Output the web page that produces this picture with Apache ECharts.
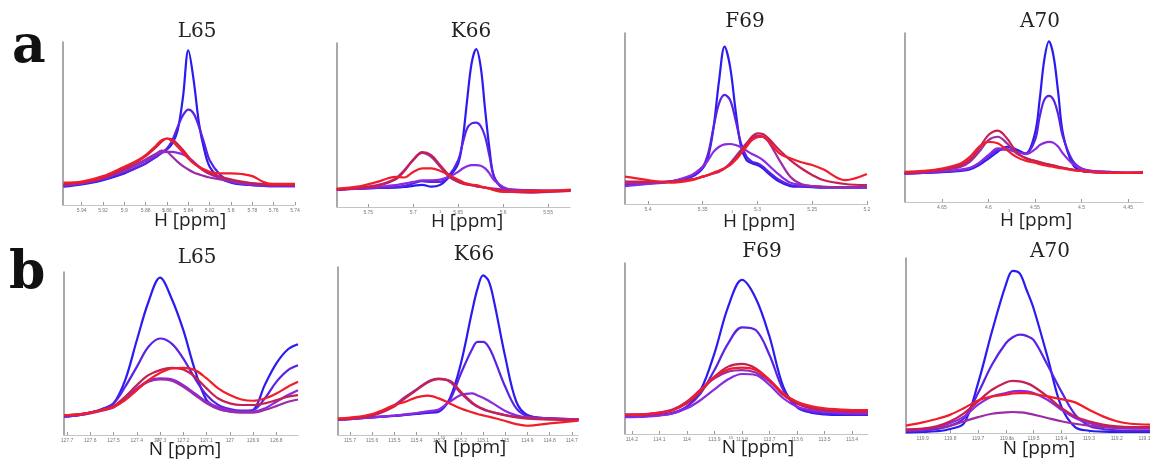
<!DOCTYPE html>
<html>
<head>
<meta charset="utf-8">
<script src="https://cdn.jsdelivr.net/npm/echarts@6/dist/echarts.min.js"></script>
<style>
html, body { margin: 0; padding: 0; background: #fff; }
#main { width: 1150px; height: 463px; }
</style>
</head>
<body>
<div id="main"></div>
<script>
// ---------- row a : 1H projections ----------
const aL65_ticks = [5.94, 5.92, 5.9, 5.88, 5.86, 5.84, 5.82, 5.8, 5.78, 5.76, 5.74];
const aL65_ppm = [5.957, 5.94, 5.92, 5.90, 5.89, 5.88, 5.87, 5.865, 5.86, 5.855, 5.85, 5.845, 5.84, 5.835, 5.83, 5.825, 5.82, 5.81, 5.80, 5.79, 5.78, 5.77, 5.76, 5.74];
const aL65_blue = [11.2, 12.6, 15.3, 19.4, 22.4, 25.5, 29.6, 32.0, 34.1, 37.7, 45.9, 66.3, 94.9, 76.5, 50.0, 33.7, 23.5, 16.3, 13.7, 12.6, 12.2, 11.8, 11.6, 11.6];
const aL65_bviolet = [11.6, 12.9, 15.7, 19.8, 22.4, 25.5, 29.6, 32.0, 34.7, 39.8, 47.9, 55.1, 58.5, 56.1, 47.9, 37.7, 27.5, 18.4, 14.3, 12.9, 12.2, 11.8, 11.6, 11.6];
const aL65_violet = [12.2, 13.3, 16.3, 21.0, 23.9, 27.1, 30.6, 32.2, 32.6, 32.6, 32.0, 31.0, 29.2, 26.5, 23.5, 21.0, 19.0, 16.3, 14.3, 13.3, 12.6, 12.2, 12.0, 12.0];
const aL65_purple = [12.2, 13.7, 16.3, 21.4, 24.5, 27.9, 31.6, 33.3, 32.6, 29.6, 26.5, 23.9, 21.8, 20.0, 18.8, 17.7, 16.9, 15.7, 14.7, 13.7, 13.3, 12.9, 12.6, 12.6];
const aL65_crimson = [12.9, 13.7, 16.7, 22.4, 25.9, 30.0, 35.7, 38.8, 40.8, 40.2, 37.3, 33.7, 29.6, 25.9, 23.1, 20.8, 19.4, 17.3, 15.7, 14.3, 13.3, 12.6, 12.2, 12.2];
const aL65_red = [13.7, 14.3, 17.7, 23.5, 26.5, 30.6, 36.7, 39.8, 40.8, 38.8, 35.7, 32.0, 28.6, 25.5, 23.5, 21.8, 20.4, 19.4, 19.4, 19.0, 17.7, 14.3, 12.9, 12.9];

const aK66_ticks = [5.75, 5.7, 5.65, 5.6, 5.55];
const aK66_ppm = [5.785, 5.76, 5.74, 5.72, 5.71, 5.70, 5.69, 5.68, 5.67, 5.66, 5.65, 5.645, 5.64, 5.635, 5.63, 5.625, 5.62, 5.615, 5.61, 5.60, 5.59, 5.57, 5.55, 5.525];
const aK66_blue = [10.6, 11.2, 11.6, 11.8, 12.2, 12.9, 13.5, 12.4, 13.5, 18.4, 26.5, 40.8, 65.3, 87.8, 96.3, 85.7, 59.2, 34.7, 18.4, 11.2, 10.2, 9.8, 9.8, 10.2];
const aK66_bviolet = [10.6, 11.2, 11.6, 12.2, 12.9, 14.3, 15.7, 15.3, 15.3, 19.4, 28.6, 38.8, 48.0, 51.0, 51.4, 49.4, 42.8, 30.6, 18.4, 11.8, 10.6, 10.2, 9.8, 10.2];
const aK66_violet = [10.6, 11.2, 12.2, 13.3, 14.3, 15.3, 16.3, 16.3, 16.7, 18.4, 21.4, 23.5, 24.9, 25.5, 25.5, 25.1, 23.5, 20.4, 16.3, 12.2, 10.6, 10.2, 9.8, 10.2];
const aK66_purple = [10.6, 11.8, 13.3, 17.3, 22.4, 28.6, 33.0, 30.6, 24.5, 18.4, 15.3, 14.3, 13.7, 13.3, 12.6, 12.2, 11.8, 11.6, 11.2, 10.6, 10.2, 9.8, 9.8, 10.2];
const aK66_crimson = [10.6, 11.6, 12.9, 16.7, 21.8, 28.9, 33.4, 31.6, 25.5, 19.4, 15.7, 14.3, 13.7, 13.3, 12.9, 12.2, 11.8, 11.2, 10.6, 9.8, 9.2, 8.8, 9.2, 9.8];
const aK66_red = [11.2, 12.6, 15.3, 18.4, 18.0, 21.4, 23.5, 23.5, 22.0, 19.4, 16.7, 15.3, 14.3, 13.7, 13.3, 12.6, 11.8, 11.2, 10.2, 9.2, 9.2, 9.8, 9.8, 10.6];

const aF69_ticks = [5.4, 5.35, 5.3, 5.25, 5.2];
const aF69_ppm = [5.421, 5.40, 5.38, 5.36, 5.35, 5.345, 5.34, 5.335, 5.33, 5.325, 5.32, 5.315, 5.31, 5.305, 5.30, 5.295, 5.29, 5.28, 5.27, 5.26, 5.25, 5.24, 5.22, 5.20];
const aF69_blue = [11.1, 12.1, 13.1, 16.0, 20.9, 27.7, 45.2, 72.5, 92.0, 80.3, 54.9, 33.5, 25.7, 23.8, 22.8, 20.9, 17.9, 13.1, 10.5, 10.1, 9.8, 9.6, 9.6, 9.6];
const aF69_bviolet = [11.1, 12.1, 13.1, 16.4, 21.8, 29.6, 45.2, 59.0, 63.8, 60.8, 49.1, 35.5, 27.7, 24.8, 23.8, 21.8, 18.9, 14.0, 11.1, 10.5, 10.1, 9.8, 9.8, 9.8];
const aF69_violet = [10.5, 11.7, 13.1, 17.0, 21.8, 25.7, 30.6, 33.5, 34.9, 35.1, 34.5, 33.2, 31.2, 29.2, 27.7, 25.7, 22.8, 17.0, 12.5, 11.1, 10.5, 10.1, 9.8, 9.8];
const aF69_purple = [12.1, 12.5, 13.1, 14.4, 16.0, 17.0, 17.9, 18.9, 20.9, 23.8, 27.7, 31.6, 35.5, 38.4, 39.8, 39.4, 36.5, 25.7, 16.0, 11.7, 10.5, 10.1, 9.8, 9.8];
const aF69_crimson = [13.1, 13.1, 13.1, 14.4, 16.0, 17.0, 18.3, 19.5, 20.9, 23.4, 26.7, 30.6, 35.1, 39.4, 41.3, 40.9, 38.4, 31.6, 25.7, 20.9, 17.0, 14.0, 11.7, 11.1];
const aF69_red = [16.0, 14.0, 12.5, 14.0, 16.0, 17.0, 18.3, 19.5, 20.9, 22.8, 25.7, 29.6, 33.5, 37.4, 39.0, 39.4, 37.0, 29.6, 26.7, 24.4, 22.8, 20.3, 14.0, 17.6];

const aA70_ticks = [4.65, 4.6, 4.55, 4.5, 4.45];
const aA70_ppm = [4.69, 4.67, 4.65, 4.63, 4.62, 4.61, 4.60, 4.59, 4.58, 4.57, 4.56, 4.55, 4.545, 4.54, 4.535, 4.53, 4.525, 4.52, 4.51, 4.50, 4.49, 4.47, 4.45, 4.434];
const aA70_blue = [16.8, 17.2, 17.6, 18.4, 19.2, 21.8, 25.7, 29.7, 32.7, 31.1, 28.7, 40.6, 60.4, 84.2, 95.0, 86.1, 64.4, 40.6, 22.8, 18.4, 17.8, 17.2, 17.2, 17.2];
const aA70_bviolet = [16.8, 17.2, 17.8, 18.8, 19.8, 22.8, 27.1, 30.7, 31.1, 29.7, 28.7, 36.6, 50.5, 60.4, 62.8, 60.4, 51.5, 38.6, 24.8, 19.8, 18.4, 17.8, 17.2, 17.2];
const aA70_violet = [16.8, 17.4, 18.2, 19.2, 20.2, 23.2, 27.7, 31.7, 31.1, 29.7, 28.3, 31.1, 33.7, 35.0, 35.6, 35.0, 32.7, 28.7, 22.8, 19.8, 18.4, 17.8, 17.2, 17.2];
const aA70_purple = [17.2, 17.8, 18.8, 20.8, 23.8, 29.7, 36.6, 38.6, 34.7, 28.7, 26.1, 24.2, 23.4, 22.8, 22.2, 21.6, 20.8, 20.2, 19.2, 18.4, 17.8, 17.2, 17.2, 17.2];
const aA70_crimson = [17.2, 18.0, 19.2, 21.8, 25.1, 31.7, 39.6, 42.2, 37.6, 29.7, 25.7, 24.4, 23.6, 22.8, 22.2, 21.6, 20.8, 20.2, 19.2, 18.4, 17.8, 17.2, 17.2, 17.2];
const aA70_red = [17.8, 18.4, 19.8, 22.8, 26.7, 32.7, 35.6, 34.7, 30.7, 26.7, 24.4, 23.2, 22.4, 21.8, 21.2, 20.8, 20.2, 19.8, 18.8, 18.4, 17.8, 17.2, 17.2, 17.8];

// ---------- row b : 15N projections ----------
const bL65_ticks = [127.7, 127.6, 127.5, 127.4, 127.3, 127.2, 127.1, 127, 126.9, 126.8];
const bL65_ppm = [127.713, 127.65, 127.6, 127.55, 127.5, 127.45, 127.4, 127.35, 127.3, 127.25, 127.2, 127.15, 127.1, 127.05, 127.0, 126.95, 126.9, 126.85, 126.8, 126.75, 126.707];
const bL65_blue = [11.2, 12.2, 13.7, 15.7, 19.4, 33.7, 58.1, 81.6, 96.5, 83.6, 64.3, 39.8, 21.4, 16.3, 14.7, 14.3, 15.3, 30.6, 43.9, 52.6, 55.7];
const bL65_bviolet = [11.2, 12.2, 13.7, 15.9, 19.4, 29.6, 41.8, 54.1, 59.2, 56.1, 46.9, 34.7, 24.5, 18.4, 15.9, 14.9, 15.3, 22.4, 32.6, 39.8, 42.8];
const bL65_violet = [12.2, 12.7, 13.7, 15.3, 17.3, 22.4, 28.6, 33.3, 34.7, 34.1, 30.6, 25.5, 20.4, 17.0, 15.3, 14.3, 14.3, 16.3, 20.4, 24.5, 27.5];
const bL65_purple = [11.8, 12.2, 13.3, 14.9, 16.9, 21.8, 27.9, 32.6, 34.1, 33.3, 29.6, 24.5, 19.4, 15.9, 14.3, 13.7, 13.7, 15.3, 17.7, 20.4, 21.8];
const bL65_crimson = [12.2, 12.7, 13.7, 15.3, 17.7, 23.5, 30.6, 36.7, 39.8, 41.2, 40.2, 35.7, 28.6, 22.4, 19.4, 18.4, 18.4, 19.4, 21.4, 23.5, 24.5];
const bL65_red = [12.2, 12.7, 13.7, 15.3, 17.3, 21.4, 27.5, 33.7, 38.1, 40.8, 41.2, 39.8, 34.7, 28.6, 24.5, 21.8, 21.0, 22.4, 25.5, 29.6, 32.6];

const bK66_ticks = [115.7, 115.6, 115.5, 115.4, 115.3, 115.2, 115.1, 115, 114.9, 114.8, 114.7];
const bK66_ppm = [115.754, 115.7, 115.6, 115.5, 115.45, 115.4, 115.35, 115.3, 115.25, 115.2, 115.15, 115.125, 115.1, 115.075, 115.05, 115.0, 114.95, 114.9, 114.8, 114.67];
const bK66_blue = [9.3, 9.5, 10.5, 11.3, 11.9, 12.5, 13.1, 13.9, 21.8, 42.6, 73.3, 87.1, 95.0, 91.7, 79.2, 46.5, 19.8, 11.9, 9.9, 9.3];
const bK66_bviolet = [9.3, 9.5, 10.5, 11.5, 12.1, 12.9, 13.7, 14.9, 20.8, 36.6, 50.9, 55.4, 55.4, 52.5, 45.5, 28.7, 15.8, 11.3, 9.9, 9.3];
const bK66_violet = [9.3, 9.7, 10.5, 11.5, 12.3, 13.1, 14.1, 15.2, 19.8, 23.8, 24.8, 23.6, 22.2, 20.4, 18.4, 14.3, 11.7, 10.5, 9.9, 9.3];
const bK66_purple = [9.3, 9.7, 11.9, 17.8, 22.8, 27.1, 31.7, 33.5, 31.7, 24.8, 18.8, 16.8, 15.2, 14.1, 13.3, 11.9, 10.9, 10.3, 9.7, 9.3];
const bK66_crimson = [9.3, 9.7, 11.5, 17.0, 22.0, 26.7, 31.3, 33.3, 32.3, 25.7, 19.4, 17.2, 15.6, 14.3, 13.3, 11.7, 10.5, 9.7, 9.1, 8.9];
const bK66_red = [9.9, 10.3, 12.5, 17.8, 19.8, 22.4, 23.4, 21.8, 18.8, 15.8, 13.5, 12.5, 11.7, 10.9, 10.1, 8.3, 6.5, 5.5, 6.9, 8.5];

const bF69_ticks = [114.2, 114.1, 114, 113.9, 113.8, 113.7, 113.6, 113.5, 113.4];
const bF69_ppm = [114.225, 114.15, 114.1, 114.05, 114.0, 113.95, 113.9, 113.85, 113.8, 113.75, 113.7, 113.65, 113.6, 113.55, 113.5, 113.45, 113.4, 113.342];
const bF69_blue = [10.1, 10.5, 11.1, 12.1, 16.0, 25.7, 47.2, 74.5, 90.1, 79.4, 57.0, 27.7, 15.6, 12.5, 11.5, 11.1, 11.1, 11.1];
const bF69_bviolet = [10.1, 10.5, 11.1, 12.5, 16.0, 23.8, 37.4, 53.0, 62.4, 60.8, 46.2, 25.7, 16.0, 13.1, 12.1, 11.7, 11.5, 11.5];
const bF69_violet = [9.8, 10.1, 10.7, 12.1, 15.0, 19.9, 26.1, 32.0, 35.1, 34.5, 28.7, 20.9, 16.0, 14.0, 13.1, 12.5, 12.1, 12.1];
const bF69_purple = [11.5, 11.7, 12.5, 14.4, 18.9, 26.1, 32.6, 36.5, 37.4, 35.9, 30.6, 23.4, 17.9, 15.4, 14.0, 13.5, 13.1, 13.1];
const bF69_crimson = [11.1, 11.5, 12.1, 14.0, 17.9, 24.8, 33.5, 39.4, 41.0, 38.4, 31.6, 22.8, 17.9, 15.0, 14.0, 13.5, 13.1, 13.1];
const bF69_red = [11.1, 11.5, 12.5, 14.0, 18.9, 25.7, 33.5, 37.8, 38.8, 37.4, 31.6, 23.8, 18.9, 16.4, 15.0, 14.4, 14.0, 14.0];

const bA70_ticks = [119.9, 119.8, 119.7, 119.6, 119.5, 119.4, 119.3, 119.2, 119.1];
const bA70_ppm = [119.96, 119.9, 119.85, 119.8, 119.75, 119.7, 119.65, 119.6, 119.575, 119.55, 119.525, 119.5, 119.45, 119.4, 119.35, 119.3, 119.25, 119.2, 119.15, 119.08];
const bA70_blue = [0.4, 0.6, 1.0, 2.3, 5.7, 28.5, 58.0, 84.6, 92.7, 91.2, 81.7, 71.3, 43.7, 15.2, 3.4, 1.3, 0.8, 0.6, 0.6, 0.6];
const bA70_bviolet = [1.0, 1.3, 2.3, 4.2, 8.6, 22.8, 39.0, 51.3, 54.7, 56.2, 55.5, 53.2, 39.0, 23.8, 10.5, 4.2, 2.3, 1.5, 1.3, 1.3];
const bA70_violet = [1.5, 1.9, 3.4, 5.7, 9.5, 16.2, 20.9, 22.8, 23.8, 24.1, 23.8, 22.8, 19.0, 13.3, 8.6, 5.7, 3.8, 2.9, 2.5, 2.5];
const bA70_purple = [1.9, 2.3, 2.9, 4.2, 6.7, 9.1, 11.0, 11.8, 12.0, 11.8, 11.4, 10.5, 8.6, 6.7, 5.3, 4.2, 3.4, 3.0, 2.9, 2.9];
const bA70_crimson = [1.9, 2.5, 3.8, 6.7, 11.4, 18.1, 24.7, 28.9, 29.8, 29.5, 28.5, 26.6, 20.9, 14.3, 9.5, 6.7, 4.8, 3.8, 3.4, 3.4];
const bA70_red = [4.2, 6.1, 8.0, 10.5, 14.3, 18.6, 20.9, 21.9, 22.6, 22.8, 22.8, 22.4, 20.9, 19.4, 17.5, 13.3, 9.5, 6.7, 5.3, 4.8];

// ---------- layout ----------
const colors = {
  blue: '#2a1cf0', bviolet: '#5a22e4', violet: '#8a2ae2',
  purple: '#9c2ca6', crimson: '#c61f52', red: '#f21d2a'
};
const order = ['blue', 'bviolet', 'violet', 'purple', 'crimson', 'red'];

const panels = [
  { title: 'L65', tx: 197, ty: 32, nx: 190, ny: 221, nuc: 'H', sup: '1', box: [63, 42, 232, 163], range: [5.74, 5.9575], ticks: aL65_ticks, ppm: aL65_ppm,
    lines: { blue: aL65_blue, bviolet: aL65_bviolet, violet: aL65_violet, purple: aL65_purple, crimson: aL65_crimson, red: aL65_red } },
  { title: 'K66', tx: 471, ty: 32, nx: 467, ny: 222, nuc: 'H', sup: '1', box: [337, 43, 233, 164], range: [5.5256, 5.7848], ticks: aK66_ticks, ppm: aK66_ppm,
    lines: { blue: aK66_blue, bviolet: aK66_bviolet, violet: aK66_violet, purple: aK66_purple, crimson: aK66_crimson, red: aK66_red } },
  { title: 'F69', tx: 745, ty: 22, nx: 759, ny: 222, nuc: 'H', sup: '1', box: [625, 33, 243, 171], range: [5.199, 5.421], ticks: aF69_ticks, ppm: aF69_ppm,
    lines: { blue: aF69_blue, bviolet: aF69_bviolet, violet: aF69_violet, purple: aF69_purple, crimson: aF69_crimson, red: aF69_red } },
  { title: 'A70', tx: 1040, ty: 22, nx: 1036, ny: 221, nuc: 'H', sup: '1', box: [905, 33, 238, 169], range: [4.434, 4.6896], ticks: aA70_ticks, ppm: aA70_ppm,
    lines: { blue: aA70_blue, bviolet: aA70_bviolet, violet: aA70_violet, purple: aA70_purple, crimson: aA70_crimson, red: aA70_red } },
  { title: 'L65', tx: 197, ty: 258, nx: 185, ny: 450, nuc: 'N', sup: '15', box: [64, 272, 234, 163], range: [126.707, 127.713], ticks: bL65_ticks, ppm: bL65_ppm,
    lines: { blue: bL65_blue, bviolet: bL65_bviolet, violet: bL65_violet, purple: bL65_purple, crimson: bL65_crimson, red: bL65_red } },
  { title: 'K66', tx: 474, ty: 255, nx: 470, ny: 448, nuc: 'N', sup: '15', box: [338, 267, 240, 168], range: [114.672, 115.754], ticks: bK66_ticks, ppm: bK66_ppm,
    lines: { blue: bK66_blue, bviolet: bK66_bviolet, violet: bK66_violet, purple: bK66_purple, crimson: bK66_crimson, red: bK66_red } },
  { title: 'F69', tx: 762, ty: 252, nx: 758, ny: 448, nuc: 'N', sup: '15', box: [625, 263, 243, 171], range: [113.342, 114.225], ticks: bF69_ticks, ppm: bF69_ppm,
    lines: { blue: bF69_blue, bviolet: bF69_bviolet, violet: bF69_violet, purple: bF69_purple, crimson: bF69_crimson, red: bF69_red } },
  { title: 'A70', tx: 1050, ty: 252, nx: 1039, ny: 449, nuc: 'N', sup: '15', box: [906, 258, 244, 175], range: [119.08, 119.96], ticks: bA70_ticks, ppm: bA70_ppm,
    lines: { blue: bA70_blue, bviolet: bA70_bviolet, violet: bA70_violet, purple: bA70_purple, crimson: bA70_crimson, red: bA70_red } }
];

const chart = echarts.init(document.getElementById('main'));

const grid = [], xAxis = [], yAxis = [], series = [], graphic = [];

panels.forEach((p, i) => {
  grid.push({ left: p.box[0], top: p.box[1], width: p.box[2], height: p.box[3],
    containLabel: false, outerBoundsMode: 'none' });
  xAxis.push({
    gridIndex: i, type: 'value', inverse: true, min: p.range[0], max: p.range[1],
    axisLine: { show: true, onZero: false, lineStyle: { color: '#c4c4c4', width: 1 } },
    axisTick: { show: true, inside: true, length: 3, customValues: p.ticks, lineStyle: { color: '#999' } },
    axisLabel: { customValues: p.ticks, fontSize: 5, color: '#777', margin: 3, fontFamily: 'Liberation Sans' },
    splitLine: { show: false }
  });
  yAxis.push({
    gridIndex: i, type: 'value', min: 0, max: 100,
    axisLine: { show: true, lineStyle: { color: '#8c8c8c', width: 1.5 } },
    axisTick: { show: false }, axisLabel: { show: false }, splitLine: { show: false }
  });
  order.forEach(k => {
    series.push({
      type: 'line', xAxisIndex: i, yAxisIndex: i,
      data: p.ppm.map((x, j) => [x, p.lines[k][j]]),
      smooth: 0.35, symbol: 'none',
      lineStyle: { width: 2.2, color: colors[k] },
      itemStyle: { color: colors[k] }
    });
  });
  // panel titles
  graphic.push({ type: 'text', x: p.tx, y: p.ty,
    style: { text: p.title, fill: '#222', font: '20px "DejaVu Serif"', align: 'center', verticalAlign: 'middle' } });
  // axis names
  graphic.push({ type: 'text', x: p.nx, y: p.ny,
    style: { text: p.nuc + ' [ppm]', fill: '#222', font: '19px "Open Sans"', align: 'center', verticalAlign: 'middle' } });
  graphic.push({ type: 'text', x: p.nx - 27, y: p.ny - 10,
    style: { text: p.sup, fill: '#666', font: '4px "Liberation Sans"', align: 'center', verticalAlign: 'middle' } });
});

graphic.push({ type: 'text', x: 12, y: 48,
  style: { text: 'a', fill: '#111', font: 'bold 52px "DejaVu Serif"', align: 'left', verticalAlign: 'middle' } });
graphic.push({ type: 'text', x: 9, y: 274,
  style: { text: 'b', fill: '#111', font: 'bold 52px "DejaVu Serif"', align: 'left', verticalAlign: 'middle' } });

chart.setOption({
  animation: false,
  backgroundColor: '#fff',
  grid: grid,
  xAxis: xAxis,
  yAxis: yAxis,
  series: series,
  graphic: graphic
});
</script>
</body>
</html>
